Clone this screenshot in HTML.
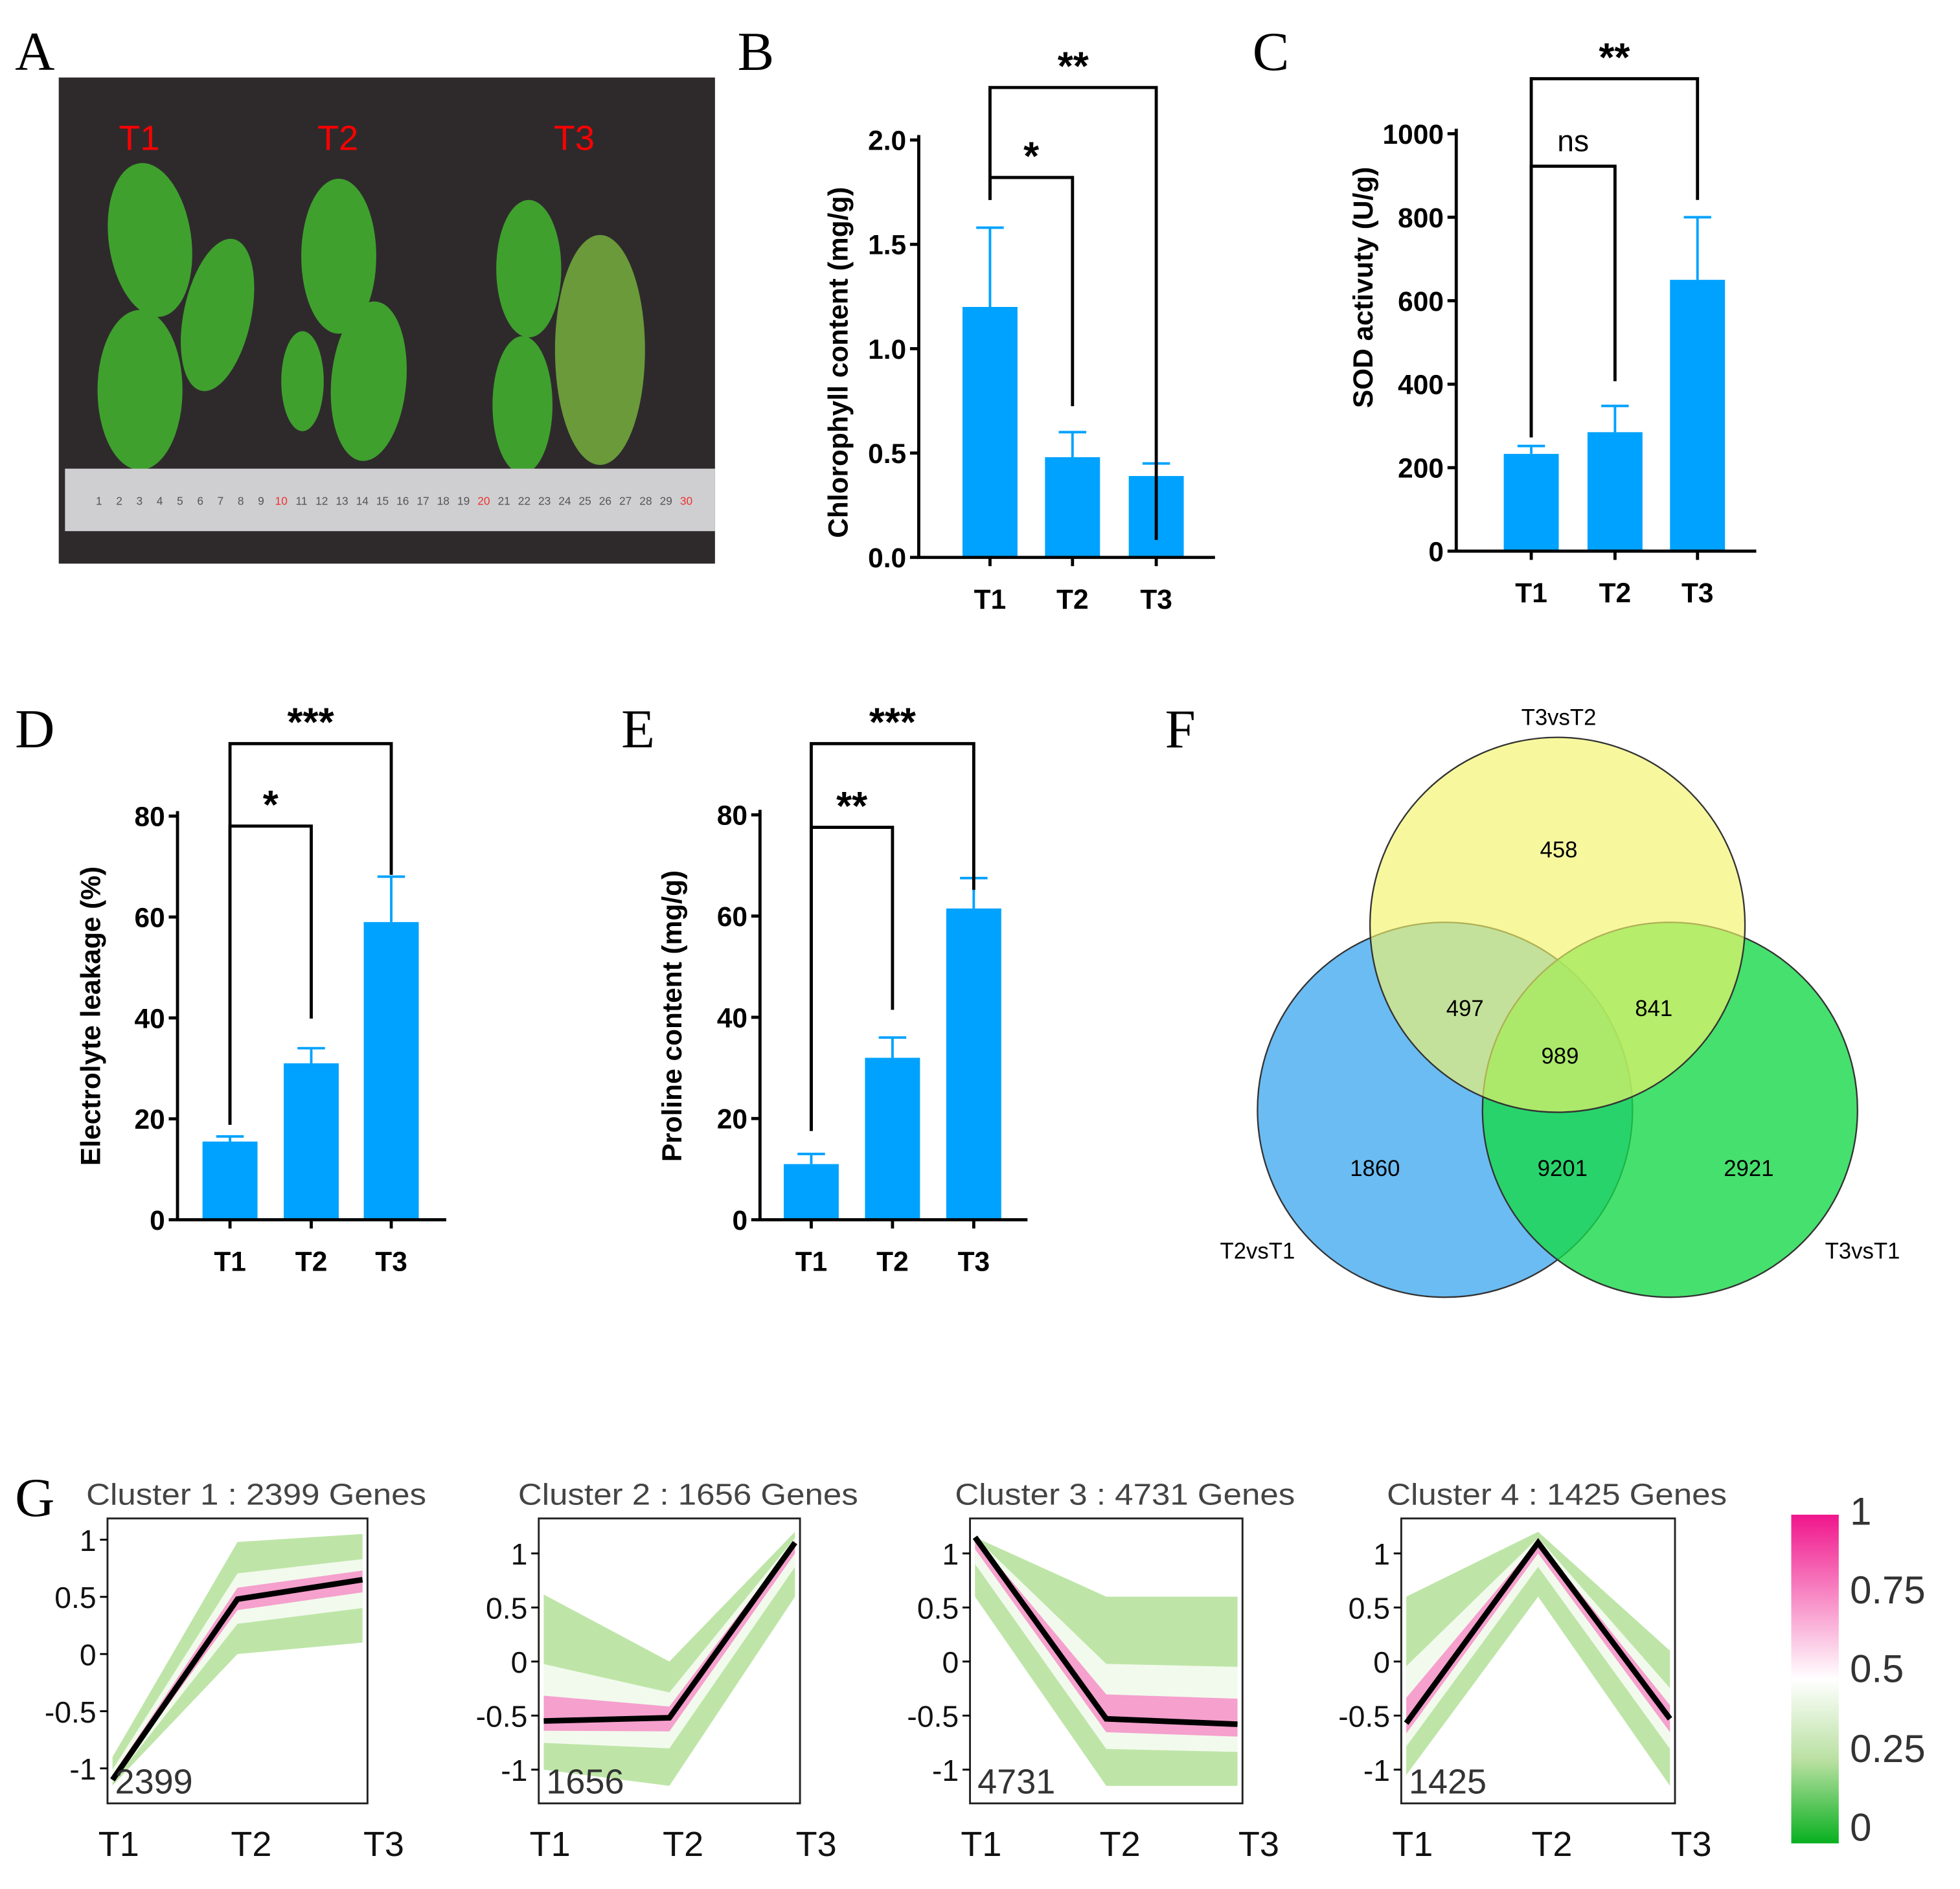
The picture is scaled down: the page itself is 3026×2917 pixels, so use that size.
<!DOCTYPE html>
<html><head><meta charset="utf-8"><style>
html,body{margin:0;padding:0;background:#fff}
svg{display:block}
text{font-family:"Liberation Sans",sans-serif}
.lt{font-family:"Liberation Serif",serif;font-size:44px}
.ax{font-weight:bold;font-size:22px}
</style></head><body>
<svg id="fig" xmlns="http://www.w3.org/2000/svg" width="3026" height="2917" viewBox="0 0 1568 1511.5">
<text class="lt" x="12" y="56">A</text>
<text class="lt" x="590" y="56">B</text>
<text class="lt" x="1002" y="56">C</text>
<text class="lt" x="12" y="598">D</text>
<text class="lt" x="497" y="598">E</text>
<text class="lt" x="932" y="598">F</text>
<text class="lt" x="12" y="1213">G</text>
<g>
<rect x="47" y="62" width="525" height="389" fill="#2e2a2c"/>
<g fill="#3fa02e">
<ellipse cx="120" cy="192" rx="33" ry="62" transform="rotate(-8 120 192)"/>
<ellipse cx="174" cy="252" rx="27" ry="62" transform="rotate(12 174 252)"/>
<ellipse cx="112" cy="312" rx="34" ry="64"/>
<ellipse cx="271" cy="205" rx="30" ry="62"/>
<ellipse cx="242" cy="305" rx="17" ry="40"/>
<ellipse cx="295" cy="305" rx="30" ry="64" transform="rotate(5 295 305)"/>
<ellipse cx="423" cy="215" rx="26" ry="55"/>
<ellipse cx="418" cy="324" rx="24" ry="55"/>
<ellipse cx="480" cy="280" rx="36" ry="92" fill="#6a9a3a"/>
</g>
<rect x="52" y="375" width="520" height="50" fill="#cfcfd1"/>
<text x="95" y="120" fill="#f00" font-size="28">T1</text>
<text x="254" y="120" fill="#f00" font-size="28">T2</text>
<text x="443" y="120" fill="#f00" font-size="28">T3</text>
<g id="ruler" font-size="9" fill="#555"></g>
</g>
<g id="bars"></g>
<g stroke="#333" stroke-width="1.2">
<circle cx="1156" cy="888" r="150" fill="#6bbcf2"/>
<circle cx="1336" cy="888" r="150" fill="#18d84a" fill-opacity="0.8"/>
<circle cx="1246" cy="740" r="150" fill="#f2f56a" fill-opacity="0.65"/>
</g>
<g font-size="18" text-anchor="middle">
<text x="1247" y="686">458</text><text x="1172" y="813">497</text><text x="1323" y="813">841</text>
<text x="1248" y="851">989</text><text x="1100" y="941">1860</text><text x="1250" y="941">9201</text><text x="1399" y="941">2921</text>
<text x="1247" y="580">T3vsT2</text><text x="1006" y="1007">T2vsT1</text><text x="1490" y="1007">T3vsT1</text>
</g>
<g id="clusters"></g>
<defs>
<linearGradient id="cb" x1="0" y1="0" x2="0" y2="1">
<stop offset="0" stop-color="#f0168c"/><stop offset="0.5" stop-color="#ffffff"/><stop offset="0.75" stop-color="#b8e0a0"/><stop offset="1" stop-color="#08b020"/>
</linearGradient>
</defs>
<g>
<rect x="1433" y="1212" width="38" height="263" fill="url(#cb)"/>
<g font-size="31" fill="#333">
<text x="1480" y="1220">1</text><text x="1480" y="1283">0.75</text><text x="1480" y="1346">0.5</text><text x="1480" y="1410">0.25</text><text x="1480" y="1473">0</text>
</g></g>
</svg>
<script>
const NS="http://www.w3.org/2000/svg";
function mk(p,t,a,txt){const e=document.createElementNS(NS,t);for(const k in a)e.setAttribute(k,a[k]);if(txt!=null)e.textContent=txt;p.appendChild(e);return e;}
const rul=document.getElementById('ruler');
for(let i=1;i<=30;i++){mk(rul,'text',{x:79+i*16.2-16,y:404,fill:(i%10==0?'#e33':'#555'),'text-anchor':'middle'},String(i));}

const cats=["T1","T2","T3"];
const chlMean=[1.2,0.48,0.39], chlErr=[1.58,0.6,0.45];
const sodMean=[233,285,650], sodErr=[252,348,800];
const elMean=[15.5,31,59], elErr=[16.5,34,68];
const proMean=[11,32,61.5], proErr=[13,36,67.5];
const chlTicks=["0.0","0.5","1.0","1.5","2.0"], sodTicks=["0","200","400","600","800","1000"], pctTicks=["0","20","40","60","80"];

const panels=[
 {name:'chlorophyll',ax:735,ar:972,y0:446,y1:112,max:2,cx:[792,858,925],m:chlMean,e:chlErr,ticks:chlTicks,lab:"Chlorophyll content (mg/g)",lx:678,ly:290,
  br:[{a:0,b:1,y:142,la:160,lb:325,t:"*"},{a:0,b:2,y:70,la:160,lb:432,t:"**"}]},
 {name:'sod',ax:1165,ar:1405,y0:441,y1:107,max:1000,cx:[1225,1292,1358],m:sodMean,e:sodErr,ticks:sodTicks,lab:"SOD activuty (U/g)",lx:1098,ly:230,
  br:[{a:0,b:1,y:133,la:350,lb:305,t:"ns"},{a:0,b:2,y:63,la:350,lb:160,t:"**"}]},
 {name:'electrolyte',ax:142,ar:357,y0:976,y1:653,max:80,cx:[184,249,313],m:elMean,e:elErr,ticks:pctTicks,lab:"Electrolyte leakage (%)",lx:80,ly:813,
  br:[{a:0,b:1,y:661,la:900,lb:815,t:"*"},{a:0,b:2,y:595,la:900,lb:700,t:"***"}]},
 {name:'proline',ax:608,ar:822,y0:976,y1:652,max:80,cx:[649,714,779],m:proMean,e:proErr,ticks:pctTicks,lab:"Proline content (mg/g)",lx:545,ly:813,
  br:[{a:0,b:1,y:662,la:905,lb:808,t:"**"},{a:0,b:2,y:595,la:905,lb:712,t:"***"}]}
];
const bg=document.getElementById('bars');
panels.forEach(p=>{
 const g=mk(bg,'g',{});
 
 
 const Y=v=>p.y0-(v/p.max)*(p.y0-p.y1);
 p.m.forEach((v,i)=>{
  const x=p.cx[i];
  const eb=mk(g,'path',{d:`M${x} ${Y(v)}V${Y(p.e[i])}M${x-11} ${Y(p.e[i])}H${x+11}`,stroke:'#00a2ff','stroke-width':2,fill:'none'});
  
  
  const r=mk(g,'rect',{x:x-22,y:Y(v),width:44,height:p.y0-Y(v),fill:'#00a2ff'});
  
  
  const t=mk(g,'text',{x:x,y:p.y0+41,'text-anchor':'middle',class:'ax','font-size':24},cats[i]);
  
  
 });
 mk(g,'path',{d:`M${p.ax} ${p.y1-4}V${p.y0}H${p.ar}`,stroke:'#000','stroke-width':2.5,fill:'none'});
 p.ticks.forEach((tk,i)=>{
  const y=Y(p.max*i/(p.ticks.length-1));
  mk(g,'path',{d:`M${p.ax-7} ${y}H${p.ax}`,stroke:'#000','stroke-width':2.5});
  const t=mk(g,'text',{x:p.ax-10,y:y+8,'text-anchor':'end',class:'ax'},tk);
  
  
 });
 cats.forEach((c,i)=>mk(g,'path',{d:`M${p.cx[i]} ${p.y0}v7`,stroke:'#000','stroke-width':2.5}));
 const yl=mk(g,'text',{x:p.lx,y:p.ly,'text-anchor':'middle',class:'ax','font-size':27,transform:`rotate(-90 ${p.lx} ${p.ly})`},p.lab);
 
 
 p.br.forEach(b=>{
  const xa=p.cx[b.a],xb=p.cx[b.b];
  const bp=mk(g,'path',{d:`M${xa} ${b.la}V${b.y}H${xb}V${b.lb}`,stroke:'#000','stroke-width':2.5,fill:'none'});
  
  
  const st=b.t=="ns";
  const tt=mk(g,'text',{x:(xa+xb)/2,y:b.y-(st?12:6),'text-anchor':'middle','font-size':st?24:32,'font-weight':st?'normal':'bold'},b.t);
  
  
 });
});

const clusterTitles=["Cluster 1 : 2399 Genes","Cluster 2 : 1656 Genes","Cluster 3 : 4731 Genes","Cluster 4 : 1425 Genes"];
const clusterCounts=["2399","1656","4731","1425"];
const c1Mean=[-1.1,0.48,0.65], c2Mean=[-0.55,-0.52,1.1], c3Mean=[1.15,-0.53,-0.58], c4Mean=[-0.57,1.1,-0.53];
const c1Hi=[-0.9,0.98,1.05], c1Lo=[-1.15,0.0,0.1];
const c2Hi=[0.62,0.0,1.2], c2Lo=[-1.0,-1.15,0.6];
const c3Hi=[1.15,0.6,0.6], c3Lo=[0.6,-1.15,-1.15];
const c4Hi=[0.6,1.2,0.1], c4Lo=[-1.05,0.6,-1.15];
const yTickVals=[1,0.5,0,-0.5,-1];
const yTickLabs=["1","0.5","0","-0.5","-1"];
const cl=[
 {L:86,R:294,one:1232,m1:1415,m:c1Mean,hi:c1Hi,lo:c1Lo},
 {L:431,R:640,one:1243,m1:1416,m:c2Mean,hi:c2Hi,lo:c2Lo},
 {L:776,R:994,one:1243,m1:1416,m:c3Mean,hi:c3Hi,lo:c3Lo},
 {L:1121,R:1340,one:1243,m1:1416,m:c4Mean,hi:c4Hi,lo:c4Lo}
];
const cg=document.getElementById('clusters');
cl.forEach((c,k)=>{
 const g=mk(cg,'g',{});
 
 
 const T=1215,B=1443;
 const Y=v=>c.one+(1-v)/2*(c.m1-c.one);
 const X=i=>c.L+4+i*(c.R-c.L-8)/2;
 const band=(hi,lo)=>'M'+hi.map((v,i)=>X(i)+' '+Y(v)).join('L')+'L'+lo.map((v,i)=>X(2-i)+' '+Y(lo[2-i])).join('L')+'Z';
 mk(g,'rect',{x:c.L,y:T,width:c.R-c.L,height:B-T,fill:'#fff'});
 const gb=mk(g,'path',{d:band(c.hi,c.lo),fill:'#a8dc8a','fill-opacity':0.75});
 
 
 const ph=c.m.map((v,i)=>v+(c.hi[i]-v)*0.45), pl=c.m.map((v,i)=>v-(v-c.lo[i])*0.45);
 mk(g,'path',{d:band(ph,pl),fill:'#fff','fill-opacity':0.8});
 const ph2=c.m.map((v,i)=>v+(c.hi[i]-v)*0.2), pl2=c.m.map((v,i)=>v-(v-c.lo[i])*0.2);
 const pb=mk(g,'path',{d:band(ph2,pl2),fill:'#f58ac4','fill-opacity':0.8});
 
 
 const ml=mk(g,'path',{d:'M'+c.m.map((v,i)=>X(i)+' '+Y(v)).join('L'),stroke:'#000','stroke-width':4.5,fill:'none'});
 
 
 mk(g,'rect',{x:c.L,y:T,width:c.R-c.L,height:B-T,fill:'none',stroke:'#222','stroke-width':1.5});
 yTickVals.forEach((v,i)=>{
  mk(g,'path',{d:`M${c.L-6} ${Y(v)}H${c.L}`,stroke:'#000','stroke-width':1.5});
  const t=mk(g,'text',{x:c.L-9,y:Y(v)+9,'text-anchor':'end','font-size':24,fill:'#111'},yTickLabs[i]);
  
  
 });
 cats.forEach((ct,i)=>{
  const t=mk(g,'text',{x:c.L+9+i*(c.R-c.L+4)/2,y:1485,'text-anchor':'middle','font-size':28,fill:'#111'},ct);
  
  
 });
 const tt=mk(g,'text',{x:(c.L+c.R)/2+15,y:1204,'text-anchor':'middle','font-size':24,fill:'#444',textLength:272,lengthAdjust:'spacingAndGlyphs'},clusterTitles[k]);
 
 
 const cn=mk(g,'text',{x:c.L+6,y:1435,'font-size':28,fill:'#333'},clusterCounts[k]);
 
 
});
</script>
</body></html>
